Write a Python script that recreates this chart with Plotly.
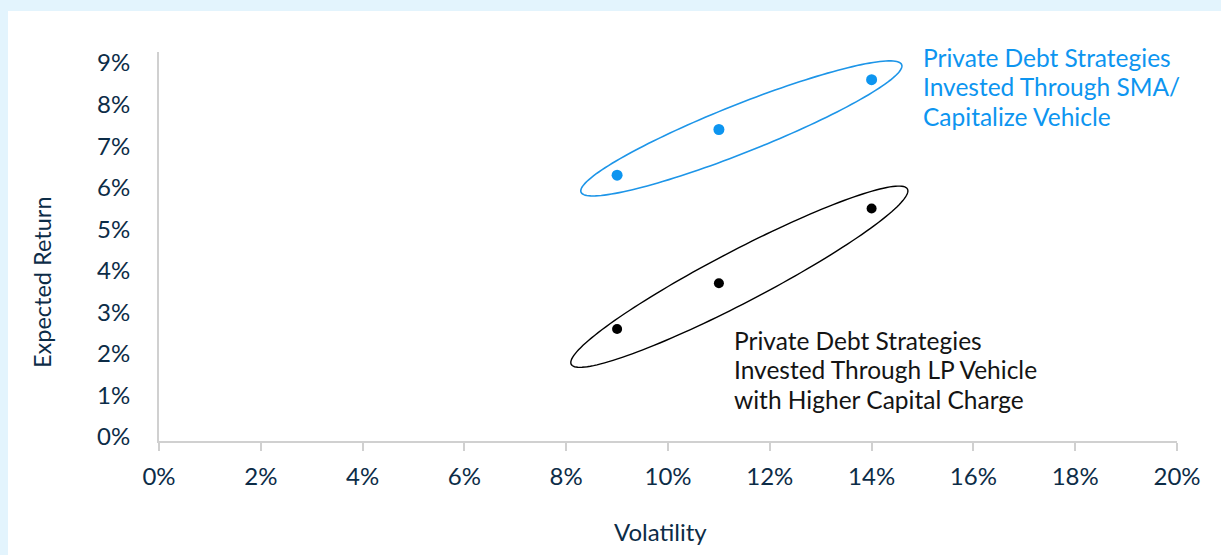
import numpy as np
import plotly.graph_objects as go

# ---------------- data ----------------
volatility_sma = [0.09, 0.11, 0.14]
return_sma = [0.063, 0.074, 0.086]
volatility_lp = [0.09, 0.11, 0.14]
return_lp = [0.026, 0.037, 0.055]

x_tick_vals = [0.00, 0.02, 0.04, 0.06, 0.08, 0.10, 0.12, 0.14, 0.16, 0.18, 0.20]
y_tick_vals = [0.00, 0.01, 0.02, 0.03, 0.04, 0.05, 0.06, 0.07, 0.08, 0.09]

label_sma_lines = ["Private Debt Strategies", "Invested Through SMA/", "Capitalize Vehicle"]
label_lp_lines = ["Private Debt Strategies", "Invested Through LP Vehicle", "with Higher Capital Charge"]
x_title = "Volatility"
y_title = "Expected Return"

# ---------------- layout constants ----------------
W, H = 1221, 555
ML, MR, MT, MB = 159, 44, 52, 114
X_RANGE = [0.0, 0.2]
Y_RANGE = [-0.00096, 0.09265]
PX_X = (W - ML - MR) / (X_RANGE[1] - X_RANGE[0])
PX_Y = (H - MT - MB) / (Y_RANGE[1] - Y_RANGE[0])
LINE_GAP = 29.5

BLUE = "#0d95f0"
BLUE_LINE = "#1d95e8"
BLACK = "#000000"
NAVY = "#0c2c47"
FONT = "Lato, 'Open Sans', sans-serif"


def ellipse_path(xs, ys, pad, semi_minor, dang_deg, off_px):
    """Rotated ellipse enclosing a group of points (built in pixel space)."""
    x0, y0 = xs[0] * PX_X, ys[0] * PX_Y
    x1, y1 = xs[-1] * PX_X, ys[-1] * PX_Y
    cx = (x0 + x1) / 2 + off_px[0]
    cy = (y0 + y1) / 2 + off_px[1]
    ang = np.arctan2(y1 - y0, x1 - x0) + np.radians(dang_deg)
    a = np.hypot(x1 - x0, y1 - y0) / 2 + pad
    b = semi_minor
    t = np.linspace(0, 2 * np.pi, 160)
    u, v = a * np.cos(t), b * np.sin(t)
    px = cx + u * np.cos(ang) - v * np.sin(ang)
    py = cy + u * np.sin(ang) + v * np.cos(ang)
    dx, dy = px / PX_X, py / PX_Y
    pts = [f"{xx:.6f},{yy:.6f}" for xx, yy in zip(dx, dy)]
    return "M " + " L ".join(pts) + " Z"


def y_at_pixel(py):
    return Y_RANGE[0] + (H - MB - py) / PX_Y


fig = go.Figure()

fig.add_trace(go.Scatter(
    x=volatility_sma, y=return_sma, mode="markers",
    marker=dict(color=BLUE, size=11, line=dict(width=0)),
    name="SMA / Capitalize Vehicle", showlegend=False,
))
fig.add_trace(go.Scatter(
    x=volatility_lp, y=return_lp, mode="markers",
    marker=dict(color=BLACK, size=10, line=dict(width=0)),
    name="LP Vehicle", showlegend=False,
))

shapes = [
    # white panel over light-blue page background
    dict(type="rect", xref="paper", yref="paper",
         x0=(8 - ML) / (W - ML - MR), x1=1.2,
         y0=-0.6, y1=(H - MB - 11) / (H - MT - MB),
         fillcolor="white", line=dict(width=0), layer="below"),
    dict(type="path", xref="x", yref="y",
         path=ellipse_path(volatility_sma, return_sma, 36.6, 24, 1.1, (-3, -1)),
         line=dict(color=BLUE_LINE, width=1.6)),
    dict(type="path", xref="x", yref="y",
         path=ellipse_path(volatility_lp, return_lp, 48.8, 26, 2.2, (-5, -8)),
         line=dict(color=BLACK, width=1.4)),
]

annotations = []
for i, line in enumerate(label_sma_lines):
    annotations.append(dict(
        text=line, x=(921 - ML) / PX_X, y=y_at_pixel(57 + i * LINE_GAP),
        xref="x", yref="y", xanchor="left", yanchor="middle", align="left",
        showarrow=False, font=dict(family=FONT, size=24.5, color=BLUE)))
for i, line in enumerate(label_lp_lines):
    annotations.append(dict(
        text=line, x=(732 - ML) / PX_X, y=y_at_pixel(340 + i * LINE_GAP),
        xref="x", yref="y", xanchor="left", yanchor="middle", align="left",
        showarrow=False, font=dict(family=FONT, size=24.5, color="#141414")))

annotations += [
    dict(text=y_title, x=(42 - ML) / (W - ML - MR), y=(H - MB - 282) / (H - MT - MB),
         xref="paper", yref="paper", textangle=-90, showarrow=False,
         xanchor="center", yanchor="middle",
         font=dict(family=FONT, size=23.5, color=NAVY)),
    dict(text=x_title, x=(660 - ML) / (W - ML - MR), y=(H - MB - 531) / (H - MT - MB),
         xref="paper", yref="paper", showarrow=False,
         xanchor="center", yanchor="middle",
         font=dict(family=FONT, size=24, color=NAVY)),
]

fig.update_layout(
    width=W, height=H,
    margin=dict(l=ML, r=MR, t=MT, b=MB, pad=0),
    paper_bgcolor="#e3f4fd",
    plot_bgcolor="rgba(0,0,0,0)",
    shapes=shapes,
    annotations=annotations,
    showlegend=False,
    font=dict(family=FONT, color=NAVY),
    xaxis=dict(
        range=X_RANGE, tickvals=x_tick_vals, tickformat=".0%",
        showgrid=False, zeroline=False, showline=True,
        linecolor="#d0d0d0", linewidth=2,
        ticks="outside", ticklen=8, tickwidth=2, tickcolor="#d0d0d0",
        tickfont=dict(family=FONT, size=24, color=NAVY),
        ticklabelstandoff=5, fixedrange=True,
    ),
    yaxis=dict(
        range=Y_RANGE, tickvals=y_tick_vals, tickformat=".0%",
        showgrid=False, zeroline=False, showline=True,
        linecolor="#d0d0d0", linewidth=2, ticks="",
        tickfont=dict(family=FONT, size=24, color=NAVY),
        ticklabelstandoff=22, fixedrange=True,
    ),
)

fig.write_html("out.html")
